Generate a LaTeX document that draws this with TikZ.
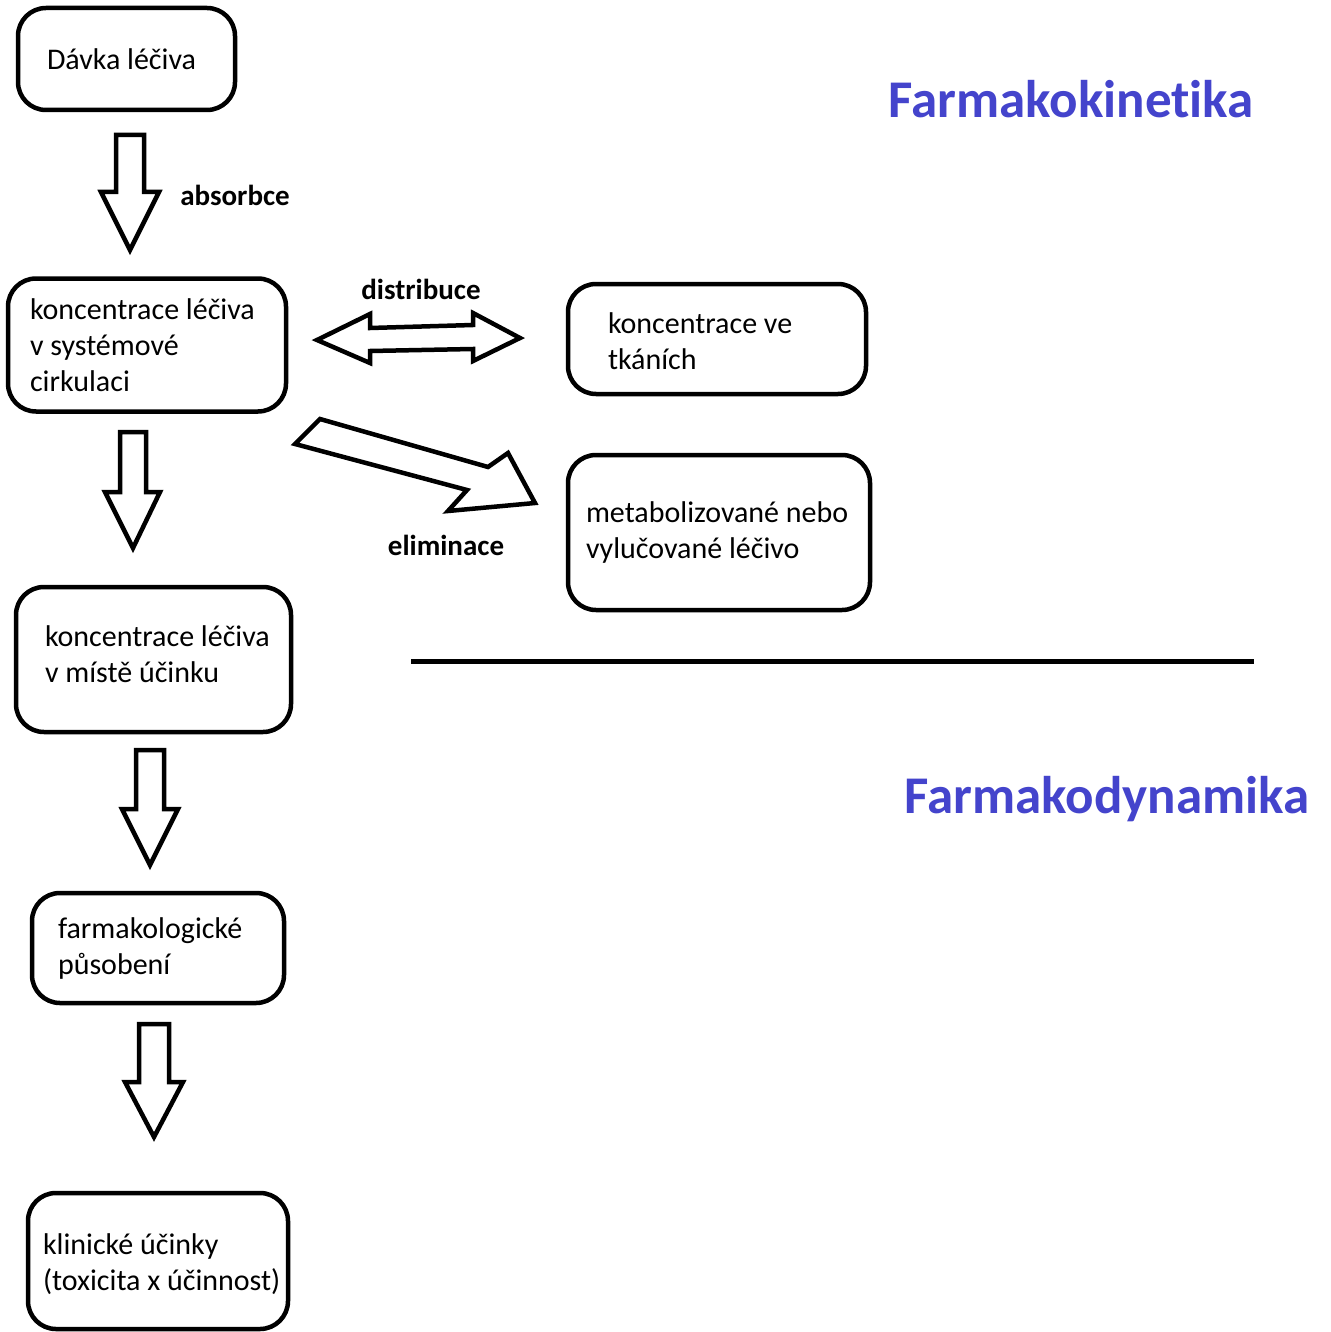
\documentclass[tikz,border=0pt]{standalone}
\usepackage{fontspec}
\setmainfont{Carlito}[Ligatures=NoCommon]
\usepackage{tikz}
\definecolor{titleblue}{RGB}{68,68,204}

\begin{document}
\begin{tikzpicture}[
    x=1pt, y=-1pt,
    box/.style={draw, line width=4.5pt, rounded corners=28pt, align=left, inner ysep=0pt,
        font=\fontsize{30}{36}\selectfont, execute at begin node={\spaceskip=0pt\relax}},
    block arrow/.style={draw, line width=4.5pt, line join=miter, fill=white},
    step label/.style={font=\bfseries\fontsize{29}{34}\selectfont},
    title/.style={font=\bfseries\fontsize{53}{60}\selectfont, text=titleblue},
    separator/.style={line width=5pt}
    ]

    \useasboundingbox (0,0) rectangle (1330,1332);

    % boxes
    \node[box, text width=159pt, inner xsep=29pt, minimum height=102pt] (davka) at (126.5,59) {\mbox{Dávka léčiva}};
    \node[box, text width=234pt, inner xsep=22pt, minimum height=133pt] (obeh) at (147,345) {\mbox{koncentrace léčiva}\\ \mbox{v systémové}\\ cirkulaci};
    \node[box, text width=218pt, inner xsep=40pt, minimum height=110pt] (tkane) at (717,339) {\mbox{koncentrace ve}\\ tkáních\vspace{-4pt}};
    \node[box, text width=266pt, inner xsep=18pt, minimum height=155pt] (metabol) at (719,532.5) {\mbox{metabolizované nebo}\\ \mbox{vylučované léčivo}};
    \node[box, text width=217pt, inner xsep=29pt, minimum height=145pt] (misto) at (153.5,659.5) {\mbox{koncentrace léčiva}\\ \mbox{v místě účinku}\vspace{10pt}};
    \node[box, text width=200pt, inner xsep=26pt, minimum height=110pt] (pusobeni) at (158,948) {farmakologické\\ působení};
    \node[box, text width=230pt, inner xsep=15pt, minimum height=136pt] (klinika) at (158,1261) {\mbox{klinické účinky}\\ \mbox{(toxicita x účinnost)}\vspace{-6pt}};

    % down arrows
    \draw[block arrow] (116,135) -- (144,135) -- (144,192) -- (159,192) -- (130,250) -- (101,192) -- (116,192) -- cycle;
    \draw[block arrow] (120,432) -- (146,432) -- (146,492) -- (160,492) -- (133,548) -- (105,492) -- (120,492) -- cycle;
    \draw[block arrow] (136,750) -- (164,750) -- (164,809) -- (178,809) -- (150,865) -- (122,809) -- (136,809) -- cycle;
    \draw[block arrow] (139,1024) -- (169,1024) -- (169,1082) -- (183,1082) -- (154,1137) -- (125,1082) -- (139,1082) -- cycle;

    % distribuce, eliminace
    \draw[block arrow] (317,340) -- (370,314) -- (370,328) -- (473,325) -- (473,313) -- (520,338)
        -- (473,361) -- (473,349) -- (370,351) -- (370,363) -- cycle;
    \draw[block arrow] (320,419) -- (295,444) -- (467,490) -- (448,511) -- (535,503) -- (508,453) -- (488,467) -- cycle;

    % labels
    \node[step label] (absorbce) at (235,195) {absorbce};
    \node[step label] (distribuce) at (421,289) {distribuce};
    \node[step label] (eliminace) at (446,545) {eliminace};

    % titles
    \node[title] (kinetika) at (1071,99) {Farmakokinetika};
    \node[title] (dynamika) at (1107,799) {Farmakodynamika};
    \draw[separator] (411,661) -- (1254,661);

\end{tikzpicture}
\end{document}
